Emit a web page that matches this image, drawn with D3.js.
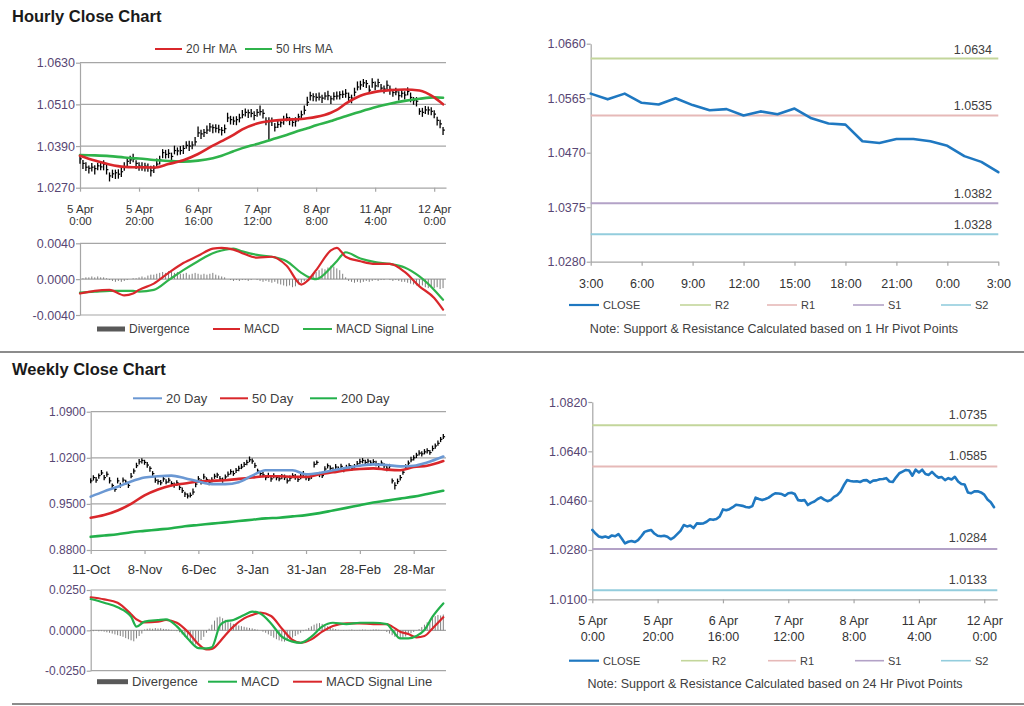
<!DOCTYPE html>
<html><head><meta charset="utf-8">
<script src="https://cdn.jsdelivr.net/npm/d3@7"></script>
<style>body{margin:0;background:#fff;}</style>
</head><body><svg id="c" width="1024" height="706"></svg>
<script>
// ---------------- DATA ----------------
const hourTickIdx = [0,20,40,60,80,100,120];
const hourTickLabels = [["5 Apr","0:00"],["5 Apr","20:00"],["6 Apr","16:00"],["7 Apr","12:00"],["8 Apr","8:00"],["11 Apr","4:00"],["12 Apr","0:00"]];
const dayTickIdx = [0,20,40,60,80,100,120];
const dayTickLabels = ["11-Oct","8-Nov","6-Dec","3-Jan","31-Jan","28-Feb","28-Mar"];
const pivotTickIdx = [0,3,6,9,12,15,18,21,24];
const pivotTickLabels = ["3:00","6:00","9:00","12:00","15:00","18:00","21:00","0:00","3:00"];

// hourly closes 5 Apr 0:00 .. 12 Apr 3:00
const hourClose = [1.0353,1.0340,1.0329,1.0326,1.0329,1.0325,1.0333,1.0330,1.0338,1.0322,
 1.0304,1.0310,1.0313,1.0309,1.0316,1.0330,1.0346,1.0350,1.0353,1.0340,
 1.0332,1.0330,1.0332,1.0328,1.0319,1.0326,1.0338,1.0350,1.0371,1.0366,
 1.0369,1.0360,1.0377,1.0376,1.0377,1.0383,1.0392,1.0390,1.0393,1.0402,
 1.0428,1.0425,1.0429,1.0436,1.0445,1.0443,1.0441,1.0437,1.0435,1.0440,
 1.0471,1.0466,1.0462,1.0466,1.0471,1.0480,1.0487,1.0486,1.0484,1.0478,
 1.0487,1.0489,1.0484,1.0462,1.0460,1.0462,1.0444,1.0452,1.0457,1.0466,
 1.0472,1.0464,1.0458,1.0462,1.0474,1.0480,1.0493,1.0516,1.0535,1.0532,
 1.0530,1.0531,1.0528,1.0534,1.0535,1.0526,1.0533,1.0534,1.0538,1.0539,
 1.0542,1.0530,1.0528,1.0545,1.0560,1.0566,1.0572,1.0570,1.0551,1.0573,
 1.0563,1.0573,1.0557,1.0554,1.0565,1.0553,1.0544,1.0546,1.0535,1.0542,
 1.0537,1.0547,1.0530,1.0521,1.0519,1.0490,1.0487,1.0494,1.0494,1.0490,
 1.0482,1.0464,1.0454,1.0436];
// hourly bar extent above / below close, in pips
const hourUp = [12,10,14,8,12,10,9,13,11,15, 10,12,9,14,11,13,10,12,15,9, 11,13,10,12,14,9,16,12,10,13,
 12,11,14,10,13,9,12,15,11,14, 18,12,10,13,11,9,12,14,10,12, 15,11,13,10,12,14,11,9,13,12,
 10,18,12,11,13,10,12,14,9,11, 12,10,13,11,9,12,14,16,11,10, 12,13,10,11,14,9,12,13,10,11,
 12,14,10,13,16,12,11,10,14,12, 13,11,12,10,14,11,9,12,13,10, 11,12,14,10,12,9,13,11,10,12, 11,10,12,9];
const hourDown = [14,16,11,15,12,17,13,10,18,14, 16,12,18,13,15,11,14,12,10,16, 13,11,15,12,17,14,10,13,16,12,
 14,15,11,13,12,16,10,14,12,11, 12,15,13,11,14,16,12,10,15,13, 12,14,11,16,13,10,12,15,11,14,
 13,11,15,12,55,14,12,10,13,15, 11,14,12,16,13,10,12,11,14,13, 12,10,14,11,13,15,12,10,14,11,
 13,11,15,12,10,14,12,13,11,15, 12,14,10,13,11,15,12,10,14,12, 13,11,14,12,15,10,13,12,14,11, 12,15,13,14];

// hourly chart line samples (hour index)
const hourSampleIdx = [0,5,10,15,18,20,25,30,35,40,45,48,52,55,60,65,70,75,77,80,85,87,90,95,100,105,110,115,120,123];
const ma20Hr = [1.0362,1.0348,1.0337,1.0330,1.0329,1.0329,1.0328,1.0338,1.0349,1.0367,1.0391,1.0404,1.0422,1.0438,1.0455,1.0463,1.0466,1.0468,1.0470,1.0474,1.0486,1.0494,1.0512,1.0535,1.0546,1.0551,1.0553,1.0550,1.0530,1.0510];
const ma50Hr = [1.0364,1.0363,1.0361,1.0357,1.0355,1.0354,1.0350,1.0347,1.0345,1.0348,1.0355,1.0362,1.0375,1.0384,1.0396,1.0409,1.0422,1.0436,1.0441,1.0450,1.0462,1.0468,1.0476,1.0489,1.0502,1.0512,1.0520,1.0526,1.0530,1.0529];
const macdHr = [-0.0016,-0.0013,-0.0012,-0.0018,-0.0016,-0.0012,-0.0005,0.0007,0.0018,0.0026,0.0034,0.0035,0.0033,0.0029,0.0024,0.0025,0.0015,-0.0006,-0.0002,0.0010,0.0032,0.0035,0.0025,0.0020,0.0017,0.0017,0.0008,-0.0008,-0.0021,-0.0034];
const signalHr = [-0.0015,-0.0014,-0.0013,-0.0013,-0.0013,-0.0014,-0.0012,-0.0001,0.0010,0.0020,0.0029,0.0032,0.0034,0.0031,0.0027,0.0025,0.0020,0.0007,0.0003,0.0000,0.0013,0.0020,0.0030,0.0023,0.0019,0.0017,0.0013,0.0003,-0.0012,-0.0023];
const hourDiv = [0.0000,0.0001,0.0002,0.0002,0.0003,0.0002,0.0003,0.0002,0.0002,0.0001,
 -0.0001,-0.0002,-0.0003,-0.0002,-0.0003,-0.0002,-0.0001,0.0000,0.0001,0.0001,
 0.0002,0.0003,0.0002,0.0004,0.0005,0.0005,0.0006,0.0007,0.0008,0.0007,
 0.0009,0.0008,0.0007,0.0008,0.0006,0.0006,0.0007,0.0005,0.0006,0.0007,
 0.0006,0.0005,0.0006,0.0005,0.0006,0.0007,0.0005,0.0004,0.0003,0.0002,
 0.0000,-0.0001,-0.0002,-0.0001,-0.0002,-0.0001,-0.0001,-0.0002,-0.0001,0.0000,
 -0.0001,-0.0002,-0.0003,-0.0002,-0.0003,-0.0004,-0.0003,-0.0005,-0.0006,-0.0007,
 -0.0008,-0.0007,-0.0009,-0.0008,-0.0006,-0.0004,-0.0002,0.0000,0.0003,0.0006,
 0.0008,0.0010,0.0012,0.0011,0.0013,0.0015,0.0014,0.0012,0.0010,0.0006,
 0.0002,-0.0002,-0.0003,-0.0004,-0.0003,-0.0004,-0.0003,-0.0002,-0.0003,-0.0002,
 -0.0001,-0.0002,-0.0001,-0.0001,0.0000,-0.0001,-0.0002,-0.0001,-0.0002,-0.0003,
 -0.0003,-0.0004,-0.0005,-0.0006,-0.0007,-0.0008,-0.0007,-0.0009,-0.0010,-0.0008,
 -0.0010,-0.0009,-0.0011,-0.0010];

// daily closes 11-Oct .. 12-Apr
const dayClose = [0.985,0.990,0.986,0.993,0.997,0.990,0.995,0.985,0.978,0.972,
 0.985,0.979,0.986,0.983,0.978,0.992,1.000,1.008,1.014,1.016,
 1.013,1.009,1.004,0.996,0.986,0.984,0.982,0.988,0.983,0.986,
 0.981,0.978,0.982,0.975,0.970,0.965,0.962,0.963,0.968,0.980,
 0.988,0.984,0.991,0.987,0.983,0.986,0.992,0.994,0.988,0.986,
 0.991,0.995,0.999,0.996,1.001,1.004,1.006,1.010,1.013,1.017,
 1.015,1.008,1.000,0.996,0.994,0.990,0.993,0.988,0.992,0.990,
 0.988,0.992,0.990,0.985,0.989,0.993,0.991,0.987,0.992,0.995,
 0.990,0.988,0.992,1.010,1.013,0.995,0.993,1.003,1.008,1.004,
 1.002,1.006,1.003,1.007,1.002,1.005,1.008,1.004,1.007,1.011,
 1.014,1.016,1.013,1.015,1.012,1.014,1.011,1.009,1.012,1.008,
 1.004,1.007,0.985,0.978,0.984,0.990,0.998,1.006,1.012,1.017,
 1.020,1.024,1.027,1.026,1.029,1.031,1.028,1.034,1.038,1.042,
 1.048,1.052];
const dayUp = [40,35,50,30,45,38,42,55,30,36, 48,32,40,35,44,50,38,45,42,35, 40,46,33,38,50,36,42,30,45,38,
 35,44,40,32,48,36,40,45,55,38, 42,36,48,34,40,45,38,32,44,40, 36,42,38,45,34,40,48,36,42,50,
 38,44,35,40,46,32,42,38,45,36, 40,34,46,38,42,36,44,30,40,48, 35,42,38,45,30,36,44,40,34,42,
 38,45,36,40,32,44,38,42,36,40, 44,36,40,34,42,38,46,32,40,36, 42,38,35,50,44,40,36,42,38,45,
 40,36,44,38,42,35,40,46,38,42, 36,40];
const dayDown = [35,45,38,50,32,42,36,40,48,34, 40,46,35,42,38,32,44,36,40,48, 36,42,50,34,40,45,38,44,32,40,
 42,36,48,40,34,44,38,32,42,46, 38,44,34,42,48,36,40,45,32,38, 44,36,42,34,40,46,32,38,44,36,
 40,35,42,48,34,40,36,44,32,42, 36,44,38,40,46,32,42,38,44,36, 42,34,40,46,36,44,38,32,42,40,
 36,42,38,44,40,34,46,38,32,42, 38,44,36,40,42,34,38,46,36,40, 44,36,42,60,40,46,38,34,42,36,
 40,44,36,42,38,46,34,40,44,38, 42,36];
const daySampleIdx = [0,5,10,15,20,25,30,35,40,45,50,55,60,65,70,75,80,85,90,95,100,105,110,115,120,125,131];
const ma20Day = [0.961,0.969,0.976,0.984,0.990,0.992,0.993,0.989,0.984,0.980,0.980,0.983,0.993,1.001,1.001,1.001,0.995,0.997,1.001,1.005,1.008,1.010,1.009,1.007,1.008,1.013,1.022];
const ma50Day = [0.929,0.933,0.940,0.950,0.963,0.972,0.978,0.981,0.984,0.985,0.986,0.988,0.990,0.992,0.992,0.991,0.991,0.995,0.998,1.001,1.003,1.004,1.002,1.001,1.006,1.008,1.015];
const ma200Day = [0.900,0.902,0.904,0.907,0.909,0.911,0.913,0.916,0.918,0.920,0.922,0.924,0.926,0.928,0.929,0.931,0.933,0.936,0.940,0.944,0.948,0.952,0.955,0.958,0.961,0.965,0.970];
const dayMacdIdx = [0,5,10,15,17,20,25,28,32,36,40,43,45,48,50,53,57,60,63,67,71,75,78,82,86,90,95,100,105,110,112,115,118,121,124,127,131];
const macdDay = [0.0194,0.0171,0.0143,0.0085,0.0023,0.0054,0.0064,0.0068,0.0025,-0.0050,-0.0110,-0.0112,-0.0105,0.0030,0.0055,0.0064,0.0095,0.0116,0.0105,0.0043,-0.0039,-0.0070,-0.0077,-0.0039,0.0023,0.0047,0.0039,0.0047,0.0047,0.0039,0.0002,-0.0050,-0.0050,-0.0035,0.0002,0.0085,0.0167];
const signalDay = [0.0205,0.0192,0.0171,0.0100,0.0068,0.0050,0.0054,0.0064,0.0047,-0.0008,-0.0085,-0.0118,-0.0115,-0.0070,-0.0030,0.0023,0.0074,0.0095,0.0110,0.0089,0.0012,-0.0060,-0.0077,-0.0056,-0.0008,0.0027,0.0043,0.0043,0.0039,0.0039,0.0023,-0.0008,-0.0023,-0.0043,-0.0035,0.0012,0.0081];
const dayDiv = [-0.0004,-0.0005,-0.0003,-0.0006,-0.0005,-0.0008,-0.0012,-0.0015,-0.0020,-0.0025,
 -0.0030,-0.0035,-0.0040,-0.0048,-0.0055,-0.0062,-0.0068,-0.0050,-0.0035,-0.0020,
 0.0005,0.0010,0.0012,0.0010,0.0014,0.0011,0.0013,0.0009,0.0008,0.0006,
 0.0003,-0.0002,-0.0005,-0.0012,-0.0025,-0.0040,-0.0055,-0.0070,-0.0082,-0.0088,
 -0.0075,-0.0060,-0.0040,-0.0015,0.0010,0.0035,0.0060,0.0080,0.0085,0.0075,
 0.0065,0.0055,0.0048,0.0040,0.0035,0.0030,0.0026,0.0022,0.0018,0.0015,
 0.0012,0.0008,0.0004,0.0000,-0.0008,-0.0015,-0.0025,-0.0035,-0.0045,-0.0055,
 -0.0062,-0.0068,-0.0070,-0.0065,-0.0055,-0.0045,-0.0035,-0.0025,-0.0015,-0.0005,
 0.0005,0.0015,0.0025,0.0035,0.0042,0.0045,0.0040,0.0032,0.0025,0.0018,
 0.0012,0.0008,0.0004,0.0002,-0.0003,-0.0002,0.0003,0.0005,0.0002,-0.0002,
 0.0003,0.0005,0.0004,0.0002,0.0003,0.0005,0.0006,0.0004,0.0002,-0.0002,
 -0.0010,-0.0020,-0.0030,-0.0040,-0.0048,-0.0050,-0.0045,-0.0038,-0.0028,-0.0018,
 -0.0010,-0.0002,0.0008,0.0020,0.0035,0.0050,0.0065,0.0078,0.0088,0.0095,
 0.0092,0.0098];

// pivot charts
const pivotClose = [1.0573,1.0563,1.0573,1.0557,1.0554,1.0565,1.0553,1.0544,1.0546,1.0535,1.0542,1.0537,1.0547,1.0530,1.0521,1.0519,1.0490,1.0487,1.0494,1.0494,1.0490,1.0482,1.0464,1.0454,1.0436];
const levelNames = ["R2","R1","S1","S2"];
const levelColors = ["#c3d69b","#e6b9b8","#b3a2c7","#93cddd"];
const hourPivots = [1.0634,1.0535,1.0382,1.0328];
const dayPivots = [1.0735,1.0585,1.0284,1.0133];

// ---------------- DRAWING ----------------
const FONT = "'Liberation Sans', Arial, Helvetica, sans-serif";
const GRID = "#a6a6a6";
const YTXT = "#574673";
const XTXT = "#333333";
const svg = d3.select("#c").attr("font-family", FONT);
const fmt4 = v => (Math.abs(v) < 1e-12 ? 0 : v).toFixed(4);

function text(x, y, s, o = {}) {
  return svg.append("text").attr("x", x).attr("y", y).text(s)
    .attr("font-size", o.size || 12).attr("fill", o.fill || "#404040")
    .attr("font-weight", o.weight || "normal").attr("text-anchor", o.anchor || "start");
}
function hgrid(y, vals, x0, x1, color = GRID, w = 1.2) {
  svg.append("g").selectAll("line").data(vals).join("line")
    .attr("x1", x0).attr("x2", x1).attr("y1", d => y(d)).attr("y2", d => y(d))
    .attr("stroke", color).attr("stroke-width", w);
}
function leftAxis(y, vals, x0, size) {
  const g = svg.append("g").attr("transform", `translate(${x0},0)`)
    .call(d3.axisLeft(y).tickValues(vals).tickFormat(fmt4).tickSize(4).tickSizeOuter(0).tickPadding(1));
  g.select(".domain").attr("stroke", GRID).attr("stroke-width", 1.2);
  g.selectAll(".tick line").attr("stroke", GRID).attr("stroke-width", 1.2);
  g.selectAll(".tick text").attr("fill", YTXT).attr("font-size", size).attr("font-family", FONT);
  return g;
}
function bottomAxis(x, vals, labels, y0, size, base, lh) {
  const g = svg.append("g").attr("transform", `translate(0,${y0})`)
    .call(d3.axisBottom(x).tickValues(vals).tickFormat("").tickSize(4).tickSizeOuter(0));
  g.select(".domain").attr("stroke", GRID).attr("stroke-width", 1.2);
  g.selectAll(".tick line").attr("stroke", GRID).attr("stroke-width", 1.2);
  g.selectAll(".tick text").each(function(d, i) {
    const t = d3.select(this).attr("y", null).attr("dy", null)
      .attr("fill", XTXT).attr("font-size", size).attr("font-family", FONT);
    const lines = Array.isArray(labels[i]) ? labels[i] : [labels[i]];
    lines.forEach((s, k) => t.append("tspan").attr("x", 0).attr("y", base + k * lh).text(s));
  });
  return g;
}
function path(idx, vals, x, y, color, w, curve = d3.curveMonotoneX) {
  const pts = vals.map((v, i) => [idx ? idx[i] : i, v]);
  svg.append("path").datum(pts)
    .attr("d", d3.line().x(d => x(d[0])).y(d => y(d[1])).curve(curve))
    .attr("fill", "none").attr("stroke", color).attr("stroke-width", w)
    .attr("stroke-linejoin", "round").attr("stroke-linecap", "round");
}
function legLine(x0, x1, y, color, label, size, w = 2) {
  svg.append("line").attr("x1", x0).attr("x2", x1).attr("y1", y).attr("y2", y)
    .attr("stroke", color).attr("stroke-width", w);
  text(x1 + 4, y + size * 0.36, label, { size });
}
function legRect(x0, x1, y, label, size) {
  svg.append("rect").attr("x", x0).attr("y", y - 2.5).attr("width", x1 - x0).attr("height", 5).attr("fill", "#595959");
  text(x1 + 4, y + size * 0.36, label, { size });
}
function ohlc(close, up, down, x, y) {
  const g = svg.append("g");
  g.selectAll("line.hl").data(close).join("line").attr("class", "hl")
    .attr("x1", (d, i) => x(i)).attr("x2", (d, i) => x(i))
    .attr("y1", (d, i) => y(d + up[i] / 10000)).attr("y2", (d, i) => y(d - down[i] / 10000))
    .attr("stroke", "#000").attr("stroke-width", 1.3);
  g.selectAll("line.cl").data(close).join("line").attr("class", "cl")
    .attr("x1", (d, i) => x(i)).attr("x2", (d, i) => x(i) + 1.8)
    .attr("y1", d => y(d)).attr("y2", d => y(d))
    .attr("stroke", "#000").attr("stroke-width", 1.2);
}
function divBars(vals, x, y) {
  svg.append("g").selectAll("line").data(vals).join("line")
    .attr("x1", (d, i) => x(i)).attr("x2", (d, i) => x(i))
    .attr("y1", y(0)).attr("y2", d => y(d))
    .attr("stroke", "#7f7f7f").attr("stroke-width", 1);
}

// titles + separators
text(12, 22, "Hourly Close Chart", { size: 16.5, weight: "bold", fill: "#1a1a1a" });
text(12, 375, "Weekly Close Chart", { size: 16.5, weight: "bold", fill: "#1a1a1a" });
svg.append("line").attr("x1", 0).attr("x2", 1024).attr("y1", 352).attr("y2", 352).attr("stroke", "#8c8c8c").attr("stroke-width", 2);
svg.append("line").attr("x1", 12).attr("x2", 1024).attr("y1", 704).attr("y2", 704).attr("stroke", "#8c8c8c").attr("stroke-width", 2);

// ---- top-left: hourly bars ----
{
  const x = d3.scaleLinear([0, 124], [80, 446]);
  const y = d3.scaleLinear([1.027, 1.063], [187.7, 62.7]);
  hgrid(y, [1.0390, 1.0510, 1.0630], 80, 446);
  leftAxis(y, [1.0270, 1.0390, 1.0510, 1.0630], 80, 12.5);
  bottomAxis(x, hourTickIdx, hourTickLabels, 187.7, 11.5, 25, 12.4);
  ohlc(hourClose, hourUp, hourDown, x, y);
  path(hourSampleIdx, ma50Hr, x, y, "#2fb34b", 2.6);
  path(hourSampleIdx, ma20Hr, x, y, "#d9272b", 2.6);
  legLine(155, 182, 49, "#d9272b", "20 Hr MA", 12);
  legLine(245, 272, 49, "#2fb34b", "50 Hrs MA", 12);

  const ym = d3.scaleLinear([-0.004, 0.004], [315, 243.3]);
  hgrid(ym, [-0.004, 0, 0.004], 80, 446);
  leftAxis(ym, [-0.004, 0, 0.004], 80, 12.5);
  divBars(hourDiv, x, ym);
  path(hourSampleIdx, signalHr, x, ym, "#2fb34b", 2.2);
  path(hourSampleIdx, macdHr, x, ym, "#d9272b", 2.2);
  legRect(97, 125, 329, "Divergence", 12);
  legLine(213, 240, 329, "#d9272b", "MACD", 12);
  legLine(303, 332, 329, "#2fb34b", "MACD Signal Line", 12);
}

// ---- top-right: 1 hr pivots ----
{
  const x = d3.scaleLinear([0, 24], [590.7, 998.3]);
  const y = d3.scaleLinear([1.028, 1.066], [261.7, 43.7]);
  leftAxis(y, [1.0280, 1.0375, 1.0470, 1.0565, 1.0660], 590.7, 12.5);
  bottomAxis(x, pivotTickIdx, pivotTickLabels, 261.7, 12.5, 26.6, 14);
  hourPivots.forEach((v, i) => {
    svg.append("line").attr("x1", x(0)).attr("x2", x(24)).attr("y1", y(v)).attr("y2", y(v))
      .attr("stroke", levelColors[i]).attr("stroke-width", 2);
    text(992, y(v) - 5, fmt4(v), { size: 12.5, anchor: "end" });
  });
  path(null, pivotClose, x, y, "#1f78c1", 2.6, d3.curveLinear);
  legLine(569, 599, 305, "#1f78c1", "CLOSE", 11, 2.2);
  levelNames.forEach((n, i) => legLine([680, 767, 853, 941][i], [711, 797, 884, 971][i], 305, levelColors[i], n, 11, 1.6));
  text(774, 332.5, "Note: Support & Resistance Calculated based on 1 Hr Pivot Points", { size: 12.5, anchor: "middle" });
}

// ---- bottom-left: daily bars ----
{
  const x = d3.scaleLinear([0, 132], [90.7, 446]);
  const y = d3.scaleLinear([0.88, 1.09], [550, 411.7]);
  hgrid(y, [0.95, 1.02, 1.09], 90.7, 446);
  leftAxis(y, [0.88, 0.95, 1.02, 1.09], 90.7, 12);
  bottomAxis(x, dayTickIdx, dayTickLabels, 550, 13, 24.3, 14);
  ohlc(dayClose, dayUp, dayDown, x, y);
  path(daySampleIdx, ma200Day, x, y, "#22b04b", 2.6);
  path(daySampleIdx, ma50Day, x, y, "#d9272b", 2.6);
  path(daySampleIdx, ma20Day, x, y, "#6b98d3", 2.6);
  legLine(133, 162, 398.3, "#6b98d3", "20 Day", 13);
  legLine(220, 248, 398.3, "#d9272b", "50 Day", 13);
  legLine(310, 337, 398.3, "#22b04b", "200 Day", 13);

  const ym = d3.scaleLinear([-0.025, 0.025], [670.7, 590]);
  hgrid(ym, [-0.025, 0, 0.025], 90.7, 446);
  leftAxis(ym, [-0.025, 0, 0.025], 90.7, 12);
  divBars(dayDiv, x, ym);
  path(dayMacdIdx, signalDay, x, ym, "#d9272b", 2.2);
  path(dayMacdIdx, macdDay, x, ym, "#22b04b", 2.2);
  legRect(97, 128, 681.7, "Divergence", 13);
  legLine(208, 237, 681.7, "#22b04b", "MACD", 13);
  legLine(293, 322, 681.7, "#d9272b", "MACD Signal Line", 13);
}

// ---- bottom-right: 24 hr pivots ----
{
  const x = d3.scaleLinear([0, 124], [592.3, 997.3]);
  const y = d3.scaleLinear([1.010, 1.082], [599.3, 402]);
  leftAxis(y, [1.0100, 1.0280, 1.0460, 1.0640, 1.0820], 592.3, 12.5);
  bottomAxis(x, hourTickIdx, hourTickLabels, 599.3, 12.5, 25.7, 16);
  dayPivots.forEach((v, i) => {
    svg.append("line").attr("x1", x(0)).attr("x2", 997.3).attr("y1", y(v)).attr("y2", y(v))
      .attr("stroke", levelColors[i]).attr("stroke-width", 2);
    text(987, y(v) - 6.5, fmt4(v), { size: 12.5, anchor: "end" });
  });
  path(null, hourClose, x, y, "#1f78c1", 2.6, d3.curveLinear);
  legLine(569, 599, 660.7, "#1f78c1", "CLOSE", 11, 2.2);
  levelNames.forEach((n, i) => legLine([681, 768, 855, 941][i], [708, 796, 884, 971][i], 660.7, levelColors[i], n, 11, 1.6));
  text(775, 687.5, "Note: Support & Resistance Calculated based on 24 Hr Pivot Points", { size: 12.5, anchor: "middle" });
}
</script></body></html>
